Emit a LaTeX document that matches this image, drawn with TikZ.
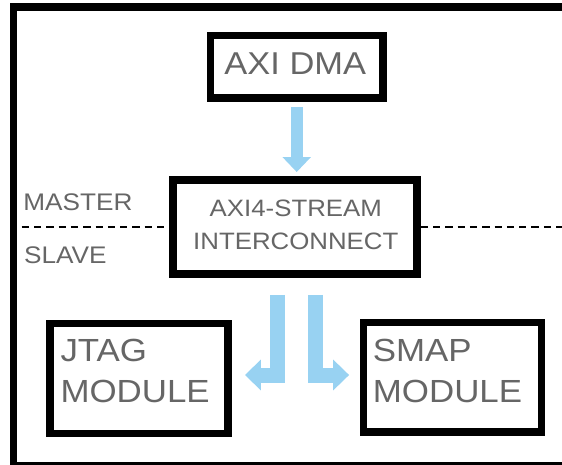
\documentclass[tikz,border=0pt]{standalone}
\usepackage{fontspec}
\setmainfont[FakeStretch=1.09]{Liberation Sans}
\usetikzlibrary{arrows.meta}
\definecolor{labelgray}{RGB}{102,102,102}
\definecolor{flowblue}{RGB}{152,210,242}

\begin{document}
\begin{tikzpicture}[x=1pt,y=-1pt,
  block/.style={draw=black, line width=7.5pt, rectangle, inner sep=0pt, fill=white},
  caption/.style={text=labelgray, inner sep=0pt},
  flow/.style={draw=flowblue, line width=#1},
  divider/.style={draw=black, line width=2pt, dash pattern=on 7.3pt off 5pt}
]
\useasboundingbox (0,0) rectangle (562,465);
\clip (0,0) rectangle (562,465);

% outer frame, running past the right and bottom edges
\draw[line width=7.5pt] (13.3,7.2) rectangle (580,465.5);

% blocks
\node[block, minimum width=172.7pt, minimum height=62.7pt] (dma) at (296.7,66.7) {};
\node[block, minimum width=244.2pt, minimum height=94.4pt] (ic) at (294.9,227) {};
\node[block, minimum width=177.8pt, minimum height=110pt] (jtag) at (138.9,378.3) {};
\node[block, minimum width=177.9pt, minimum height=109.7pt] (smap) at (452.3,377.2) {};

% block texts (multi-line nodes: base anchor sits on the last line)
\node[caption, font=\fontsize{31.6}{38}\selectfont, anchor=base] (dmatext) at (295.3,74.3) {AXI DMA};
\node[caption, font=\fontsize{23.7}{32.6}\selectfont, align=center, anchor=base] (ictext) at (295.8,249.3) {AXI4-STREAM\\INTERCONNECT};
\node[caption, font=\fontsize{32}{41}\selectfont, align=left, anchor=base west] (jtagtext) at (60.3,402.7) {JTAG\\MODULE};
\node[caption, font=\fontsize{32}{41.5}\selectfont, align=left, anchor=base west] (smaptext) at (372.7,402.7) {SMAP\\MODULE};

% master / slave boundary
\coordinate (dl) at (21.7,227);
\coordinate (dr) at (562,227);
\draw[divider] (dl) -- (ic.west);
\draw[divider] (ic.east) -- (dr);
\node[caption, font=\fontsize{24}{29}\selectfont, anchor=base west] (master) at (23.2,210.7) {MASTER};
\node[caption, font=\fontsize{24}{29}\selectfont, anchor=base west] (slave) at (23.9,263.3) {SLAVE};

% data flow
\draw[flow=12pt, -{Triangle[width=27.6pt,length=15pt]}, shorten <=5.6pt, shorten >=4pt]
  (dma.south) -- (dma.south |- ic.north);
\draw[flow=15pt, -{Triangle[width=30pt,length=16pt]}, shorten <=17pt, shorten >=13.4pt]
  ([xshift=-17.4pt]ic.south) |- ([yshift=3.3pt]jtag.east);
\draw[flow=15pt, -{Triangle[width=30pt,length=16pt]}, shorten <=17pt, shorten >=10.5pt]
  ([xshift=20.6pt]ic.south) |- ([yshift=2.2pt]smap.west);
\end{tikzpicture}
\end{document}
